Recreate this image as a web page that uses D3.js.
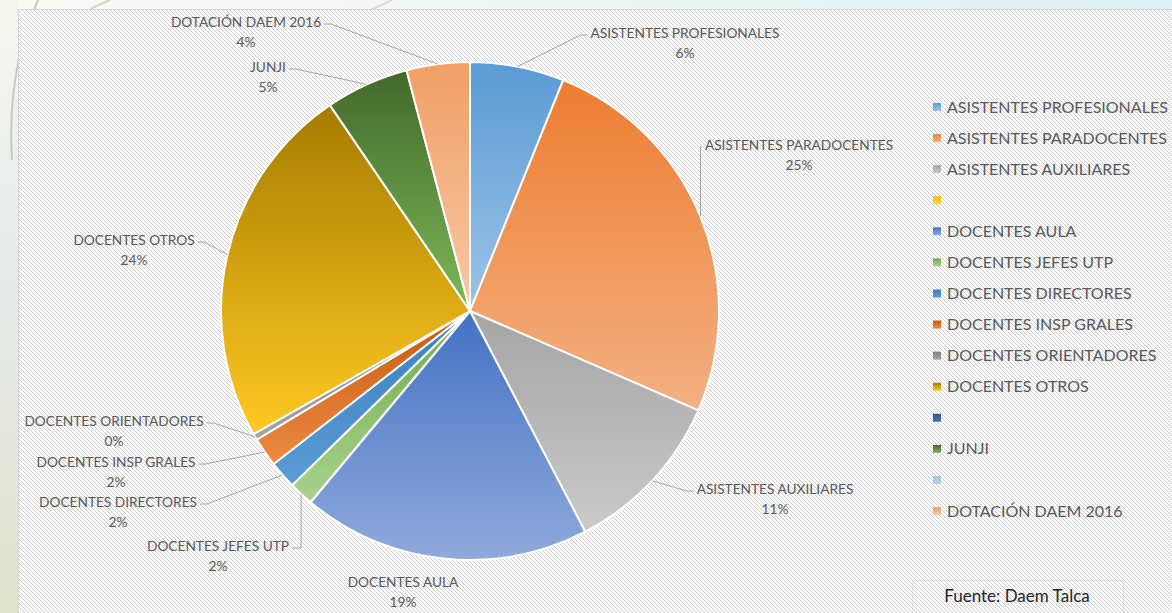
<!DOCTYPE html>
<html>
<head>
<meta charset="utf-8">
<script src="https://cdn.jsdelivr.net/npm/d3@7/dist/d3.min.js"></script>
<style>
  body { margin: 0; overflow: hidden; background: #fff; }
  svg { display: block; }
</style>
</head>
<body>
<svg width="1172" height="613"></svg>
<script>
// datos (porcentaje de la dotacion)
var categorias = [
  "ASISTENTES PROFESIONALES", "ASISTENTES PARADOCENTES", "ASISTENTES AUXILIARES", "",
  "DOCENTES AULA", "DOCENTES JEFES UTP", "DOCENTES DIRECTORES", "DOCENTES INSP GRALES",
  "DOCENTES ORIENTADORES", "DOCENTES OTROS", "", "JUNJI", "", "DOTACIÓN DAEM 2016"
];
var valores = [6.1, 25.4, 10.8, 0, 18.7, 1.6, 1.8, 1.9, 0.4, 23.7, 0, 5.4, 0, 4.1];

// colores (arriba / abajo del degradado)
var colorArriba = ["#5B9BD5", "#ED7D31", "#A5A5A5", "#FFC000", "#4472C4", "#70AD47", "#3A80C2",
  "#C55A11", "#7F7F7F", "#A67C00", "#2F5597", "#43682B", "#9DC3E6", "#F1A066"];
var colorAbajo = ["#9DC3E6", "#F4B183", "#CACACA", "#FFD24D", "#8FAADC", "#A9D18E", "#5B9BD5",
  "#EE8A42", "#A5A5A5", "#FFC923", "#4A72B8", "#7CB957", "#B7D4EE", "#F8C8A6"];

// posicion de las etiquetas (centro de la primera linea)
var posEtiquetas = [[685, 33], [799, 145], [775, 489], null, [403, 582], [218, 546], [118, 502],
  [116, 462], [114, 421], [134, 240], null, [268, 67], null, [246, 22]];

var svg = d3.select("svg"),
  W = +svg.attr("width"),
  H = +svg.attr("height");

var defs = svg.append("defs");

// fondo de la diapositiva
var gTop = defs.append("linearGradient").attr("id", "fondoTop").attr("x1", 0).attr("x2", 1).attr("y1", 0).attr("y2", 0);
gTop.append("stop").attr("offset", 0).attr("stop-color", "#fbfbf3");
gTop.append("stop").attr("offset", 0.5).attr("stop-color", "#eaf5f4");
gTop.append("stop").attr("offset", 1).attr("stop-color", "#dcf0f7");
var gLeft = defs.append("linearGradient").attr("id", "fondoIzq").attr("x1", 0).attr("x2", 0).attr("y1", 0).attr("y2", 1);
gLeft.append("stop").attr("offset", 0).attr("stop-color", "#f6f6ee");
gLeft.append("stop").attr("offset", 0.4).attr("stop-color", "#e6ecec");
gLeft.append("stop").attr("offset", 1).attr("stop-color", "#e1e2cd");

svg.append("rect").attr("width", W).attr("height", H).attr("fill", "url(#fondoTop)");
svg.append("rect").attr("width", 18).attr("height", H).attr("fill", "url(#fondoIzq)");
// curvas decorativas
svg.append("path").attr("d", "M38,0 C20,40 8,90 12,160").attr("fill", "none").attr("stroke", "#c9c9c2").attr("stroke-width", 2);
svg.append("path").attr("d", "M110,0 C100,4 92,8 86,12").attr("fill", "none").attr("stroke", "#d4d4cc").attr("stroke-width", 2);
svg.append("path").attr("d", "M392,0 C380,6 370,10 360,14").attr("fill", "none").attr("stroke", "#dcdcd4").attr("stroke-width", 2);

// trama del area del grafico
var trama = defs.append("pattern").attr("id", "trama").attr("patternUnits", "userSpaceOnUse")
  .attr("width", 4).attr("height", 4);
trama.append("rect").attr("width", 4).attr("height", 4).attr("fill", "#fcfcfc");
trama.append("path").attr("d", "M-1,-1 L5,5 M-1,3 L1,5 M3,-1 L5,1")
  .attr("stroke", "#cfcfcf").attr("stroke-width", 1);

svg.append("rect").attr("x", 18.5).attr("y", 9.5).attr("width", W).attr("height", H)
  .attr("fill", "url(#trama)").attr("stroke", "#d6d6d6");

// degradados de cada porcion
categorias.forEach(function (c, i) {
  var lg = defs.append("linearGradient").attr("id", "grad" + i)
    .attr("x1", 0).attr("y1", 0).attr("x2", 0).attr("y2", 1);
  lg.append("stop").attr("offset", 0).attr("stop-color", colorArriba[i]);
  lg.append("stop").attr("offset", 1).attr("stop-color", colorAbajo[i]);
});

var cx = 470, cy = 311, radio = 249;
var total = d3.sum(valores);

var pie = d3.pie().sort(null).value(function (d) { return d; });
var arcos = pie(valores);
var arc = d3.arc().innerRadius(0).outerRadius(radio);
var arcBorde = d3.arc().innerRadius(radio).outerRadius(radio);

var g = svg.append("g").attr("transform", "translate(" + cx + "," + cy + ")");

g.selectAll(".porcion")
  .data(arcos)
  .enter()
  .filter(function (d) { return d.value > 0; })
  .append("path")
  .attr("class", "porcion")
  .attr("d", arc)
  .attr("fill", function (d) { return "url(#grad" + d.index + ")"; })
  .attr("stroke", "#fff")
  .attr("stroke-width", 2)
  .attr("stroke-linejoin", "round");

// etiquetas con lineas guia
var fuente = "Lato, 'Open Sans', sans-serif";
var gEt = svg.append("g");
arcos.forEach(function (d, i) {
  var p = posEtiquetas[i];
  if (!p || d.value <= 0) return;
  var t = gEt.append("text")
    .attr("x", p[0]).attr("y", p[1])
    .attr("text-anchor", "middle")
    .attr("font-family", fuente)
    .attr("font-size", "13.7px")
    .attr("fill", "#595959");
  t.append("tspan").attr("x", p[0]).attr("dy", "0.35em").text(categorias[i]);
  t.append("tspan").attr("x", p[0]).attr("dy", "20px").text(Math.round(d.value / total * 100) + "%");

  var ancho = t.select("tspan").node().getComputedTextLength();
  var borde = arcBorde.centroid(d);
  var ax = borde[0] + cx, ay = borde[1] + cy;
  var dist = Math.hypot(ax - p[0], ay - p[1]);
  if (dist < 60) return; // muy cerca: sin linea guia
  var lado = p[0] > ax ? -1 : 1;
  var ex = p[0] + lado * (ancho / 2 + 3), ey = p[1] + 2;
  var bx = Math.abs(ex - ax) < 20 ? ax : ex + lado * 7;
  gEt.insert("path", "text")
    .attr("d", "M" + ax + "," + ay + "L" + bx + "," + ey + "L" + ex + "," + ey)
    .attr("fill", "none")
    .attr("stroke", "#a6a6a6")
    .attr("stroke-width", 1);
});

// leyenda
var leyenda = svg.append("g").attr("transform", "translate(933,107)");
var filas = leyenda.selectAll(".fila")
  .data(categorias)
  .enter()
  .append("g")
  .attr("class", "fila")
  .attr("transform", function (d, i) { return "translate(0," + (i * 31.08) + ")"; });
filas.append("rect")
  .attr("x", 0).attr("y", -4).attr("width", 8).attr("height", 8)
  .attr("fill", function (d, i) { return "url(#grad" + i + ")"; });
filas.append("text")
  .attr("x", 14).attr("dy", "0.35em")
  .attr("font-family", fuente)
  .attr("font-size", "16px")
  .attr("fill", "#595959")
  .text(function (d) { return d; });

// fuente
svg.append("rect").attr("x", 912.5).attr("y", 580.5).attr("width", 211).attr("height", 40)
  .attr("fill", "none").attr("stroke", "#cfcfcf").attr("stroke-dasharray", "1,1");
svg.append("text").attr("x", 1017).attr("y", 596).attr("dy", "0.35em")
  .attr("text-anchor", "middle")
  .attr("font-family", fuente).attr("font-size", "17px").attr("fill", "#262626")
  .text("Fuente: Daem Talca");
</script>
</body>
</html>
